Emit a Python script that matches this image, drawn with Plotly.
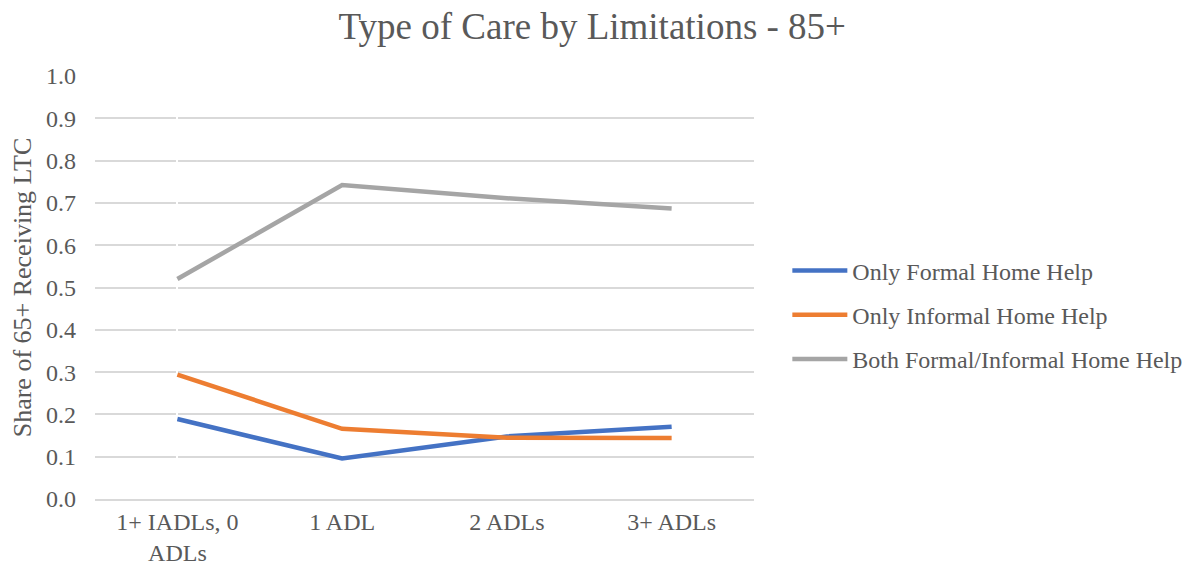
import plotly.graph_objects as go

categories = ["1+ IADLs, 0<br>ADLs", "1 ADL", "2 ADLs", "3+ ADLs"]
formal_only = [0.189, 0.096, 0.148, 0.171]
informal_only = [0.294, 0.166, 0.145, 0.144]
both = [0.520, 0.742, 0.711, 0.687]
y_ticks = [0.0, 0.1, 0.2, 0.3, 0.4, 0.5, 0.6, 0.7, 0.8, 0.9, 1.0]

serif = "'Liberation Serif', 'Times New Roman', serif"
text_color = "#595959"

fig = go.Figure()
series = [
    ("Only Formal Home Help", formal_only, "#4472C4"),
    ("Only Informal Home Help", informal_only, "#ED7D31"),
    ("Both Formal/Informal Home Help", both, "#A5A5A5"),
]
for i, (name, vals, color) in enumerate(series):
    fig.add_trace(go.Scatter(
        x=list(range(len(categories))), y=vals, name=name, mode="lines",
        legendgroup=f"g{i}",
        line=dict(color=color, width=4.5),
    ))

fig.update_layout(
    width=1190, height=567,
    paper_bgcolor="white", plot_bgcolor="white",
    margin=dict(l=87, r=443, t=68, b=76),
    title=dict(text="Type of Care by Limitations - 85+", x=0.491, xanchor="center",
               xref="container",
               y=0.968, yanchor="middle",
               font=dict(family=serif, size=37, color=text_color)),
    font=dict(family=serif, color=text_color),
    legend=dict(x=1.049, y=0.435, xanchor="left", yanchor="middle",
                font=dict(family=serif, size=24, color=text_color),
                itemwidth=55, tracegroupgap=10),
    showlegend=True,
)
fig.update_xaxes(
    range=[-0.5, 3.5], automargin=False,
    tickvals=list(range(len(categories))), ticktext=categories,
    showgrid=False, showline=True, linecolor="#D9D9D9", linewidth=1.5,
    ticks="", tickfont=dict(family=serif, size=24, color=text_color),
)
fig.update_yaxes(
    range=[0, 1.0], tickvals=y_ticks, tickformat=".1f", automargin=False,
    showgrid=True, gridcolor="#D9D9D9", gridwidth=1.5,
    zeroline=False, showline=False, ticks="", ticklabelstandoff=18,
    tickfont=dict(family=serif, size=24, color=text_color),
    title=dict(text="Share of 65+ Receiving LTC",
               font=dict(family=serif, size=26, color=text_color),
               standoff=6),
)

fig.write_html("out.html")
